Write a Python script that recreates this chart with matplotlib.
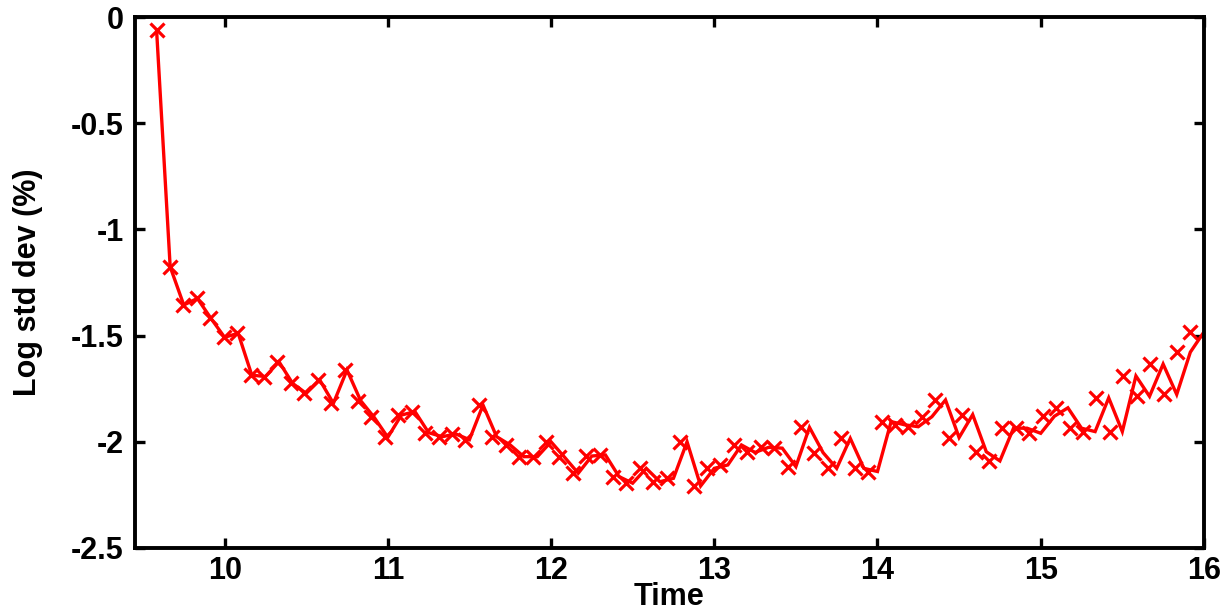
import numpy as np
import matplotlib
matplotlib.use('Agg')
import matplotlib.pyplot as plt
from matplotlib.ticker import MultipleLocator, FormatStrFormatter

plt.rcParams['font.family'] = ['Liberation Sans', 'DejaVu Sans']
plt.rcParams['axes.unicode_minus'] = False

# log std dev per month
log_std = [-0.06, -1.176, -1.356, -1.325, -1.419, -1.508, -1.489, -1.686, -1.693, -1.623,
           -1.725, -1.772, -1.709, -1.819, -1.662, -1.806, -1.885, -1.979, -1.874, -1.858,
           -1.957, -1.976, -1.963, -1.99, -1.827, -1.976, -2.015, -2.07, -2.07, -2.0,
           -2.073, -2.148, -2.067, -2.062, -2.164, -2.195, -2.125, -2.188, -2.172, -2.0,
           -2.208, -2.125, -2.109, -2.015, -2.05, -2.026, -2.03, -2.117, -1.932, -2.051,
           -2.125, -1.984, -2.125, -2.14, -1.905, -1.92, -1.929, -1.882, -1.803, -1.98,
           -1.872, -2.047, -2.09, -1.936, -1.936, -1.96, -1.88, -1.84, -1.936, -1.952,
           -1.793, -1.952, -1.69, -1.786, -1.634, -1.777, -1.578, -1.483]

# the line and the crosses sit on slightly different time grids in the original
t_start = 9.583
t_end_line = 16.0
t_end_marks = 15.917

n = len(log_std)
t_line = np.linspace(t_start, t_end_line, n)
t_marks = np.linspace(t_start, t_end_marks, n)

fig = plt.figure(figsize=(12.26, 6.12), dpi=100)
ax = fig.add_axes([0.110, 0.1046, 0.872, 0.8676])

ax.plot(t_line, log_std, color='#ff0000', lw=2.4, solid_joinstyle='miter')
ax.plot(t_marks, log_std, ls='none', marker='x', ms=10, mew=2.3, color='#ff0000')

ax.set_xlim(9.45, 16.0)
ax.set_ylim(-2.5, 0)

ax.xaxis.set_major_locator(MultipleLocator(1))
ax.yaxis.set_major_locator(MultipleLocator(0.5))
ax.yaxis.set_major_formatter(FormatStrFormatter('%g'))

for s in ax.spines.values():
    s.set_linewidth(2.8)

ax.tick_params(direction='in', which='both', top=True, right=True,
               length=7, width=2.4, labelsize=22, pad=8)
ax.tick_params(axis='x', pad=6)
for lab in ax.get_xticklabels() + ax.get_yticklabels():
    lab.set_fontweight('bold')

ax.set_xlabel('Time', fontsize=22, fontweight='bold', labelpad=-3)
ax.set_ylabel('Log std dev (%)', fontsize=22, fontweight='bold', labelpad=20)

fig.savefig('out.png', dpi=100)
